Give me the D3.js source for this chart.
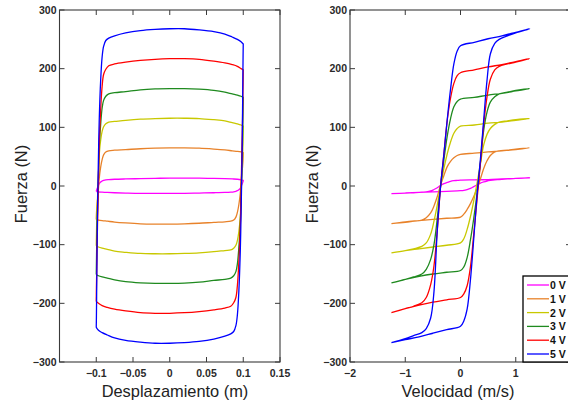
<!DOCTYPE html>
<html><head><meta charset="utf-8">
<script src="https://cdn.jsdelivr.net/npm/d3@7"></script>
<style>body{margin:0;background:#fff}svg{display:block}</style>
</head><body>
<script>
// ---------- data ----------
const voltages = ["0 V","1 V","2 V","3 V","4 V","5 V"];
const colors = ["#ff00ff","#e8822a","#c8c800","#1f8a1f","#ff0000","#0000ff"];

const yTicks = [-300,-200,-100,0,100,200,300];
const dispTicks = [-0.1,-0.05,0,0.05,0.1,0.15];
const dispTickLabels = ["\u22120.1","\u22120.05","0","0.05","0.1","0.15"];
const velTicks = [-2,-1,0,1,2];
const velTickLabels = ["\u22122","\u22121","0","1",""];   // "2" falls outside the picture

// Force vs displacement: branch moving right (x grid) and moving left
const xRight = [-0.1,-0.0998,-0.0995,-0.099,-0.098,-0.097,-0.096,-0.094,-0.092,-0.09,-0.087,-0.083,-0.075,-0.06,-0.04,-0.02,0,0.02,0.04,0.06,0.075,0.085,0.092,0.097,0.1];
const xLeft  = [0.1,0.0998,0.0995,0.099,0.098,0.097,0.096,0.094,0.092,0.09,0.087,0.083,0.075,0.06,0.04,0.02,0,-0.02,-0.04,-0.06,-0.075,-0.085,-0.092,-0.097,-0.1];

const fxRight0 = [-9,-8,-7,-5,-2,1,4,7,8.5,9.5,10.5,11,11.5,12,12.5,13,13.5,13.5,13.5,13,12.5,12,11.5,10.5,9.5];
const fxLeft0  = [9.5,8,7,5,2,-1,-4,-6.5,-8,-9,-10,-10.5,-11,-11.5,-12,-12.5,-12.5,-12.5,-12.5,-12,-11.5,-11,-10.5,-10,-9];
const fxRight1 = [-57,-50,-42,-32,-20,-5,12,32,45,53,58,60,61,62,63.5,64.5,65,65,64.5,63,61.5,60,59,58,57];
const fxLeft1  = [57,50,42,32,20,5,-12,-32,-45,-53,-58,-60,-61,-62,-63.5,-64.5,-65,-65,-64.5,-63,-61.5,-60,-59,-58,-57];
const fxRight2 = [-102,-88,-68,-42,-12,20,52,78,93,101,106,109,110,112,114,115,115.5,115.5,115,113,111,108,106,104,102];
const fxLeft2  = [102,88,68,42,12,-20,-52,-78,-93,-101,-106,-109,-110,-112,-114,-115,-115.5,-115.5,-115,-113,-111,-108,-106,-104,-102];
const fxRight3 = [-151,-135,-110,-75,-30,15,65,105,133,146,153,157,159,161,164,165.5,166,166,165,163,160,157,155,153,151];
const fxLeft3  = [151,135,110,75,30,-15,-65,-105,-133,-146,-153,-157,-159,-161,-164,-165.5,-166,-166,-165,-163,-160,-157,-155,-153,-151];
const fxRight4 = [-197,-176,-155,-110,-50,10,70,130,170,190,199,205,208,211,214,216,217,217,216,213,210,207,204,200,198];
const fxLeft4  = [198,176,155,110,50,-10,-70,-130,-170,-190,-199,-205,-208,-211,-214,-216,-217,-217,-216,-213,-210,-207,-204,-200,-197];
const fxRight5 = [-241,-225,-190,-120,-20,50,110,180,220,238,248,252,256,261,265,267,268,268,266,263,259,254,250,246,242];
const fxLeft5  = [242,225,190,120,20,-50,-110,-180,-220,-238,-248,-252,-256,-261,-265,-267,-268,-268,-266,-263,-259,-254,-250,-246,-241];

// Force vs velocity: velocity rising branch and falling branch
const vRise = [-1.25,-1.0,-0.75,-0.5,-0.25,0,0.06,0.12,0.18,0.24,0.3,0.36,0.42,0.48,0.54,0.62,0.7,0.85,1.0,1.25];
const vFall = [1.25,1.0,0.75,0.5,0.25,0,-0.06,-0.12,-0.18,-0.24,-0.3,-0.36,-0.42,-0.48,-0.54,-0.62,-0.7,-0.85,-1.0,-1.25];

const fvRise0 = [-13,-12,-11,-10,-9,-8,-7.5,-6,-4,-1,2,5,7,8.5,9.5,10.5,11,12,13,14];
const fvFall0 = [14,13,12,11,10.5,10,9.5,9,8,6,4,1,-3,-6,-8.5,-10,-10.5,-11.5,-12,-13];
const fvRise1 = [-64,-61,-59,-57,-55,-53,-48,-40,-30,-18,-4,12,30,43,52,58,60,61,63,65];
const fvFall1 = [65,62,60,58,56,54,52,48,42,33,18,2,-18,-34,-46,-54,-58,-60,-62,-64];
const fvRise2 = [-114,-110,-107,-104,-101,-97,-90,-74,-52,-25,5,38,70,88,98,105,109,111,113,115];
const fvFall2 = [115,112,109,107,104,102,98,90,75,55,30,0,-32,-60,-82,-97,-103,-107,-110,-114];
const fvRise3 = [-165,-159,-154,-150,-147,-144,-138,-122,-92,-55,-12,40,95,126,143,152,157,160,163,166];
const fvFall3 = [166,162,158,155,151,148,144,135,115,85,45,0,-55,-100,-125,-142,-150,-155,-159,-165];
const fvRise4 = [-216,-209,-203,-198,-194,-190,-184,-170,-138,-82,-22,38,105,152,182,198,204,208,211,217];
const fvFall4 = [217,212,207,203,198,193,188,175,150,112,55,0,-75,-136,-168,-190,-199,-205,-209,-216];
const fvRise5 = [-267,-262,-257,-251,-245,-239,-230,-210,-160,-90,-15,45,113,180,225,243,250,256,261,268];
const fvFall5 = [268,262,256,251,245,239,230,208,165,113,55,0,-75,-180,-225,-243,-250,-255,-260,-267];

const fxRights = [fxRight0,fxRight1,fxRight2,fxRight3,fxRight4,fxRight5];
const fxLefts  = [fxLeft0,fxLeft1,fxLeft2,fxLeft3,fxLeft4,fxLeft5];
const fvRises  = [fvRise0,fvRise1,fvRise2,fvRise3,fvRise4,fvRise5];
const fvFalls  = [fvFall0,fvFall1,fvFall2,fvFall3,fvFall4,fvFall5];

// ---------- drawing ----------
const W = 568, H = 405;
const svg = d3.select("body").append("svg").attr("width", W).attr("height", H);
const FONT = "'Liberation Sans', Arial, sans-serif";
const plotTop = 10, plotBottom = 362;

function panel(opt) {
  const x = d3.scaleLinear().domain(opt.xDomain).range([opt.left, opt.right]);
  const y = d3.scaleLinear().domain([-300, 300]).range([plotBottom, plotTop]);
  const g = svg.append("g");
  const clipId = "clip" + opt.id;
  svg.append("clipPath").attr("id", clipId).append("rect")
    .attr("x", opt.left).attr("y", plotTop).attr("width", opt.right - opt.left).attr("height", plotBottom - plotTop);

  const line = d3.line().x(d => x(d[0])).y(d => y(d[1])).curve(d3.curveCatmullRom.alpha(0.5));
  const plot = g.append("g").attr("clip-path", `url(#${clipId})`);
  opt.loops.forEach((pts, i) => {
    plot.append("path").attr("d", line(pts)).attr("fill", "none")
      .attr("stroke", colors[i]).attr("stroke-width", 1.3).attr("stroke-linejoin", "round");
  });

  const axc = "#3a3a3a";
  g.append("rect").attr("x", opt.left).attr("y", plotTop)
    .attr("width", opt.right - opt.left).attr("height", plotBottom - plotTop)
    .attr("fill", "none").attr("stroke", axc).attr("stroke-width", 1.1);
  opt.xTicks.forEach((t, i) => {
    const px = x(t);
    g.append("line").attr("x1", px).attr("x2", px).attr("y1", plotBottom).attr("y2", plotBottom - 5).attr("stroke", axc);
    g.append("line").attr("x1", px).attr("x2", px).attr("y1", plotTop).attr("y2", plotTop + 5).attr("stroke", axc);
    if (opt.xLabels[i]) {
      g.append("text").attr("x", px).attr("y", 376.5).attr("text-anchor", "middle")
        .attr("font-family", FONT).attr("font-weight", "bold").attr("font-size", 10.5).attr("fill", "#2a2a2a")
        .text(opt.xLabels[i]);
    }
  });
  yTicks.forEach(t => {
    const py = y(t);
    g.append("line").attr("x1", opt.left).attr("x2", opt.left + 5).attr("y1", py).attr("y2", py).attr("stroke", axc);
    g.append("line").attr("x1", opt.right).attr("x2", opt.right - 5).attr("y1", py).attr("y2", py).attr("stroke", axc);
    g.append("text").attr("x", opt.left - 3).attr("y", py + 3.8).attr("text-anchor", "end")
      .attr("font-family", FONT).attr("font-weight", "bold").attr("font-size", 10.5).attr("fill", "#2a2a2a")
      .text(t < 0 ? "\u2212" + Math.abs(t) : String(t));
  });
  g.append("text").attr("x", opt.xTitleX).attr("y", 397).attr("text-anchor", "middle")
    .attr("font-family", FONT).attr("font-size", 16.4).attr("fill", "#222").text(opt.xTitle);
  g.append("text").attr("transform", `translate(${opt.yTitleX},184) rotate(-90)`).attr("text-anchor", "middle")
    .attr("font-family", FONT).attr("font-size", 16.4).attr("fill", "#222").text("Fuerza (N)");
  return {x, y, g};
}

const loopsFx = voltages.map((v, i) =>
  xRight.map((xv, k) => [xv, fxRights[i][k]]).concat(xLeft.map((xv, k) => [xv, fxLefts[i][k]])));
const loopsFv = voltages.map((v, i) =>
  vRise.map((vv, k) => [vv, fvRises[i][k]]).concat(vFall.slice(1).map((vv, k) => [vv, fvFalls[i][k + 1]])));

panel({id: 1, left: 59.5, right: 280, xDomain: [-0.15, 0.15], loops: loopsFx,
  xTicks: dispTicks, xLabels: dispTickLabels, xTitle: "Desplazamiento (m)", xTitleX: 175, yTitleX: 27});
panel({id: 2, left: 350, right: 571, xDomain: [-2, 2], loops: loopsFv,
  xTicks: velTicks, xLabels: velTickLabels, xTitle: "Velocidad (m/s)", xTitleX: 458, yTitleX: 318});

const lg = svg.append("g");
lg.append("rect").attr("x", 523).attr("y", 276).attr("width", 60).attr("height", 86)
  .attr("fill", "#fff").attr("stroke", "#000").attr("stroke-width", 1.3);
voltages.forEach((v, i) => {
  const yy = 285 + i * 13.8;
  lg.append("line").attr("x1", 527).attr("x2", 549).attr("y1", yy).attr("y2", yy)
    .attr("stroke", colors[i]).attr("stroke-width", 1.3);
  lg.append("text").attr("x", 550).attr("y", yy + 4).attr("font-family", FONT)
    .attr("font-weight", "bold").attr("font-size", 10.5).attr("fill", "#111").text(v);
});
</script>
</body></html>
